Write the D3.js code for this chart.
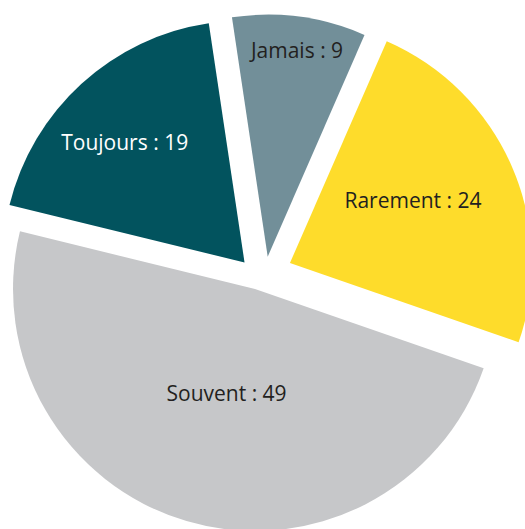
<!DOCTYPE html>
<html>
<head>
<meta charset="utf-8">
<script src="https://cdn.jsdelivr.net/npm/d3@7"></script>
<style>
  body { margin: 0; background: #fff; }
  svg { display: block; }
  text { font-family: 'Open Sans', sans-serif; }
</style>
</head>
<body>
<svg id="pie" width="525" height="529"></svg>
<script>
const categories = ['Jamais', 'Rarement', 'Souvent', 'Toujours']
const values = [9, 24, 49, 19]
const colors = ['#728f99', '#fedc2b', '#c6c7c9', '#02535e']
const textColors = ['#231f20', '#231f20', '#231f20', '#ffffff']

// how far (px) and in which direction (deg, clockwise from 12 o'clock) each slice is pulled out
const explodeDist = [20.6, 32.2, 14.1, 20.9]
const explodeAngle = [20.5, 66.2, 202.9, 310.2]
// label placement measured from the slice tip
const labelDist = [208, 138, 108.5, 169.5]
const labelAngle = [8.1, 63.1, 195.2, 315]

const svg = d3.select('#pie')
const radius = 242
const cx = 260.5
const cy = 276
const rad = deg => (deg * Math.PI) / 180
const start = rad(-8.5)

const pie = d3
  .pie()
  .sort(null)
  .startAngle(start)
  .endAngle(start + 2 * Math.PI)

const arc = d3
  .arc()
  .innerRadius(0)
  .outerRadius(radius)

const arcs = pie(values)

const g = svg
  .selectAll('g.slice')
  .data(arcs)
  .join('g')
  .attr('class', 'slice')
  .attr('transform', (d, i) => {
    const a = rad(explodeAngle[i])
    return `translate(${cx + explodeDist[i] * Math.sin(a)},${cy - explodeDist[i] * Math.cos(a)})`
  })

g.append('path')
  .attr('d', arc)
  .attr('fill', (d, i) => colors[i])

g.append('text')
  .attr('x', (d, i) => labelDist[i] * Math.sin(rad(labelAngle[i])))
  .attr('y', (d, i) => -labelDist[i] * Math.cos(rad(labelAngle[i])))
  .attr('text-anchor', 'middle')
  .attr('dy', '0.35em')
  .attr('font-size', 21)
  .attr('fill', (d, i) => textColors[i])
  .text((d, i) => `${categories[i]} : ${values[i]}`)
</script>
</body>
</html>
